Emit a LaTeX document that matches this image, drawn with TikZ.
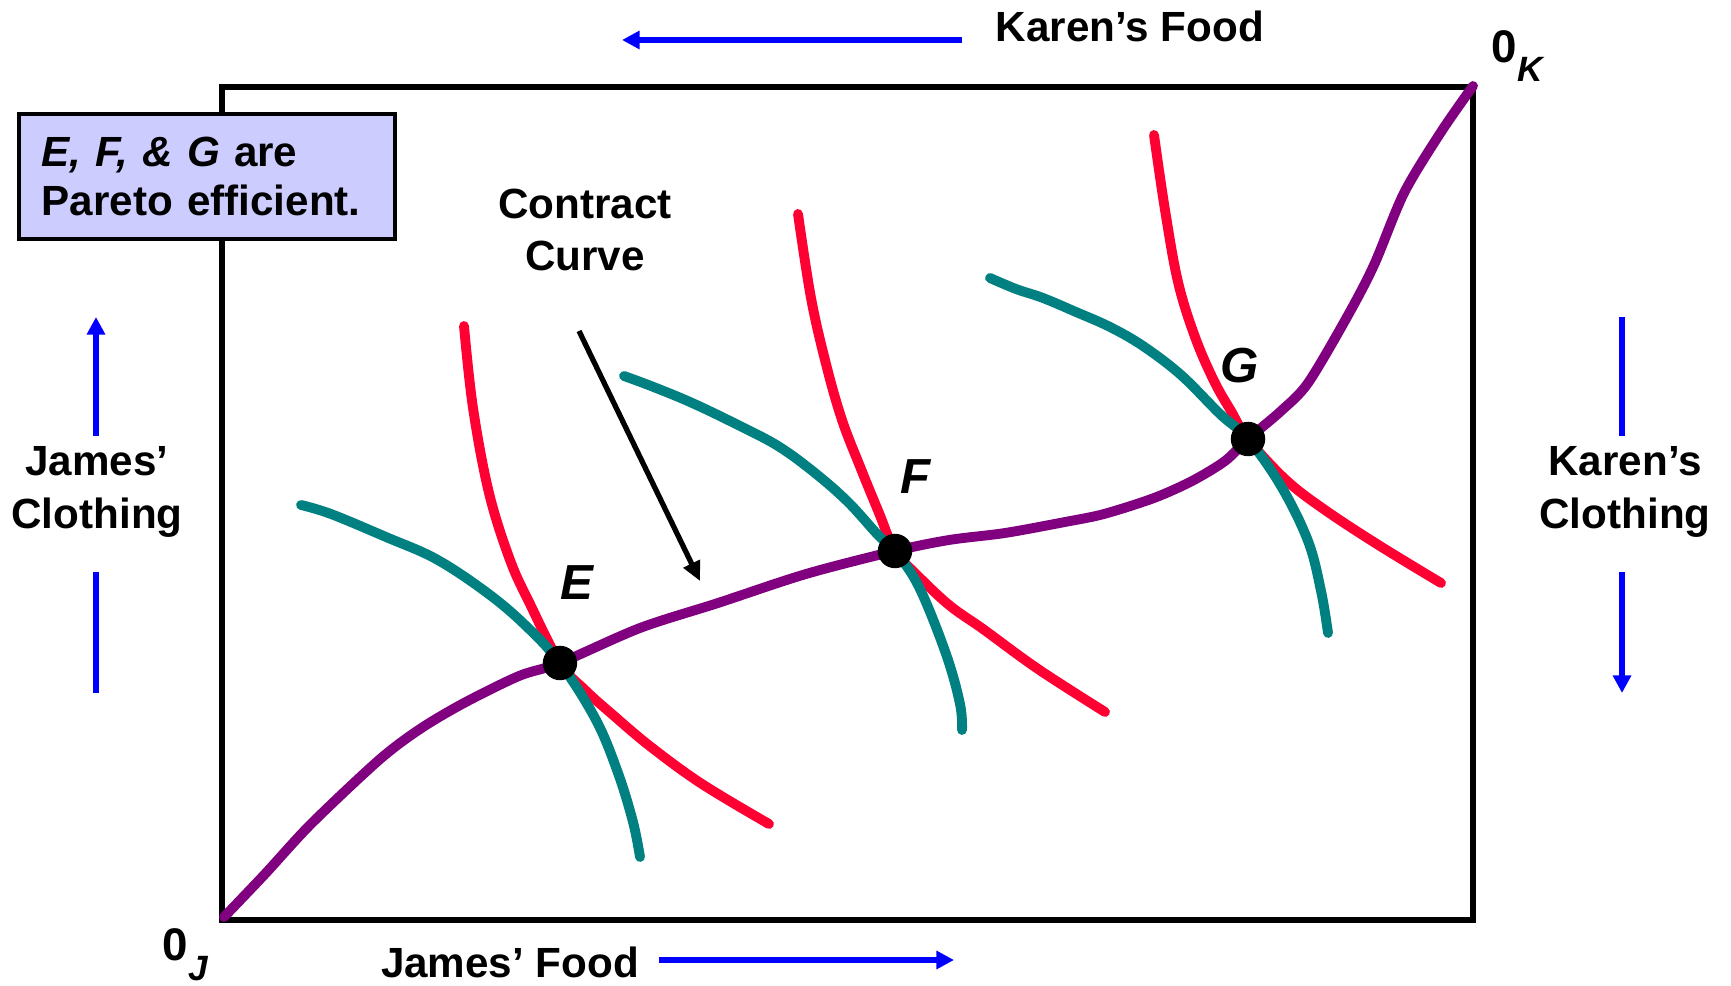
\documentclass[tikz,border=0pt]{standalone}
\usepackage{fontspec}
\setmainfont{Liberation Sans}
\usetikzlibrary{arrows.meta}
\definecolor{cred}{HTML}{FF0033}
\definecolor{cteal}{HTML}{008080}
\definecolor{cpurp}{HTML}{800080}
\definecolor{cbox}{HTML}{CCCCFF}
\begin{document}
\begin{tikzpicture}[x=0.01cm,y=-0.01cm,
  lbl/.style={font=\fontsize{12}{15}\selectfont\bfseries, align=center, inner sep=0pt},
  ptlbl/.style={font=\fontsize{14}{16}\selectfont\bfseries\itshape, inner sep=0pt, anchor=base},
  zerolbl/.style={font=\fontsize{13}{15}\selectfont\bfseries, inner sep=0pt, anchor=base west},
  dot/.style={circle, fill=black, inner sep=0pt, minimum size=9.8pt},
  curve/.style={line width=2.8pt, line cap=round, line join=round},
  bluearr/.style={draw=blue, line width=1.7pt, -{Triangle[length=5pt,width=5pt]}},
  blueline/.style={draw=blue, line width=1.7pt},
  blackarr/.style={draw=black, line width=1.5pt, -{Triangle[length=5.5pt,width=5pt]}}
]
\useasboundingbox (0,0) rectangle (1731,986);

% frame
\draw[line width=1.8pt] (222,87) rectangle (1473,920);

% red curves (Karen)
\draw[curve, cred] plot[smooth, tension=0.6] coordinates {(464,326) (473,408) (489,493) (510,560) (530,604) (560,663) (585,690) (613,715) (651,747) (702,784) (769,824)};
\draw[curve, cred] plot[smooth, tension=0.6] coordinates {(798,214) (811,298) (826,364) (842,420) (861,469) (879,513) (895,551) (916,574) (949,605) (983,629) (1038,669) (1105,712)};
\draw[curve, cred] plot[smooth, tension=0.6] coordinates {(1154,135) (1165,210) (1178,282) (1195,337) (1214,381) (1231,411) (1248,439) (1286,480) (1325,510) (1380,546) (1441,583)};

% teal curves (James)
\draw[curve, cteal] plot[smooth, tension=0.6] coordinates {(301,505) (331,514) (386,537) (436,559) (486,592) (524,624) (560,663) (596,720) (618,773) (633,822) (640,857)};
\draw[curve, cteal] plot[smooth, tension=0.6] coordinates {(624,376) (651,386) (690,402) (734,423) (778,446) (815,473) (848,502) (878,535) (895,551) (919,587) (946,654) (960,704) (962,730)};
\draw[curve, cteal] plot[smooth, tension=0.6] coordinates {(990,278) (1016,289) (1043,298) (1076,312) (1110,327) (1143,346) (1181,375) (1220,414) (1248,439) (1281,486) (1308,541) (1321,591) (1328,633)};

% contract curve
\draw[curve, cpurp] plot[smooth, tension=0.5] coordinates {(224,917) (265,874) (311,824) (379,760) (420,729) (464,703) (519,676) (560,663) (640,628) (718,603) (806,574) (895,551) (949,540) (1005,533) (1065,522) (1104,514) (1154,498) (1192,481) (1225,461) (1248,439) (1281,411) (1308,383) (1347,317) (1374,265) (1404,193) (1441,132) (1473,86)};

% points
\node[dot] (E) at (560,663) {};
\node[dot] (F) at (895,551) {};
\node[dot] (G) at (1248,439) {};
\node[ptlbl] (Elbl) at (577,600) {E};
\node[ptlbl] (Flbl) at (916,494) {F};
\node[ptlbl] (Glbl) at (1240,383) {G};

% origins
\node[zerolbl] (oJ) at (162,960) {0\raisebox{-0.45em}{\fontsize{10}{12}\selectfont\itshape J}};
\node[zerolbl] (oK) at (1491,63) {0\raisebox{-0.4em}{\fontsize{10}{12}\selectfont\itshape K}};

% Pareto box
\node[draw, fill=cbox, line width=1.1pt, anchor=north west, minimum width=107pt, minimum height=35.6pt,
      text width=94pt, align=left, inner xsep=6.5pt, inner ysep=0pt,
      font=\fontsize{12}{13.7}\selectfont\bfseries] (pbox) at (17,112) {\textit{E, F, \& G} are\\Pareto efficient.};

% contract curve label and arrow
\node[lbl] (cc) at (585,230) {Contract\\Curve};
\coordinate (ca1) at (579,331);
\coordinate (ca2) at (700,581);
\draw[blackarr] (ca1) -- (ca2);

% axis labels
\node[lbl, anchor=base] (kf) at (1130,42) {Karen’s Food};
\coordinate (kf1) at (962,40);
\coordinate (kf2) at (622,40);
\draw[bluearr] (kf1) -- (kf2);

\node[lbl, anchor=base] (jf) at (510,977) {James’ Food};
\coordinate (jf1) at (659,960);
\coordinate (jf2) at (954,960);
\draw[bluearr] (jf1) -- (jf2);

\node[lbl] (jc) at (97,492) {James’\\Clothing};
\coordinate (jc1) at (96,436);
\coordinate (jc2) at (96,317);
\coordinate (jc3) at (96,572);
\coordinate (jc4) at (96,693);
\draw[bluearr] (jc1) -- (jc2);
\draw[blueline] (jc3) -- (jc4);

\node[lbl] (kc) at (1625,492) {Karen’s\\Clothing};
\coordinate (kc1) at (1622,317);
\coordinate (kc2) at (1622,436);
\coordinate (kc3) at (1622,572);
\coordinate (kc4) at (1622,693);
\draw[blueline] (kc1) -- (kc2);
\draw[bluearr] (kc3) -- (kc4);
\end{tikzpicture}
\end{document}
